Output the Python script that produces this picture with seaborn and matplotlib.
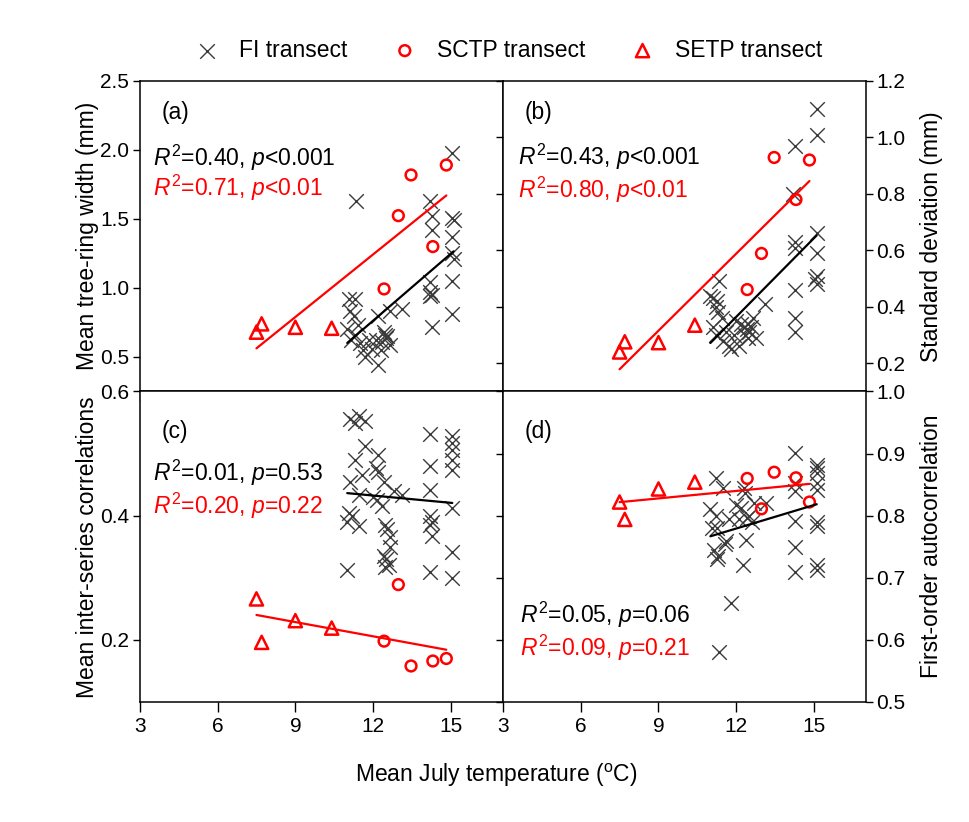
import numpy as np
import matplotlib
matplotlib.use('Agg')
import matplotlib.pyplot as plt
import seaborn as sns

# temperatures of the red transects (shared by all panels)
setp_temp = [7.5, 7.7, 9.0, 10.4]
sctp_temp = [12.42, 12.97, 13.46, 14.3, 14.82]

# (a) mean tree-ring width
fi_temp_a = [11.05, 11.3, 11.1, 11.25, 11.0, 11.4, 11.3, 11.15, 11.5, 11.35,
             11.6, 11.7, 11.95, 11.85, 12.2, 12.2, 12.4, 12.45, 12.35, 12.65,
             12.65, 12.5, 12.3, 13.1, 14.2, 14.25, 14.25, 14.2, 14.2, 14.25,
             14.2, 14.25, 15.05, 15.05, 15.1, 15.05, 15.05, 15.1, 15.05, 15.05,
             12.1, 12.55]
fi_a = [0.92, 0.92, 0.83, 0.80, 0.70, 0.73, 0.66, 0.62, 0.60, 1.63,
        0.55, 0.50, 0.56, 0.62, 0.80, 0.44, 0.68, 0.66, 0.61, 0.59,
        0.83, 0.64, 0.55, 0.85, 1.63, 1.52, 1.42, 1.04, 0.97, 0.95,
        0.94, 0.72, 1.98, 1.51, 1.49, 1.37, 1.25, 1.21, 1.05, 0.81,
        0.62, 0.65]
setp_a = [0.68, 0.74, 0.715, 0.708]
sctp_a = [0.993, 1.524, 1.819, 1.30, 1.891]

# (b) standard deviation
fi_temp_b = [11.0, 11.1, 11.2, 11.3, 11.35, 11.1, 11.2, 11.45, 11.7, 11.8,
             11.6, 12.1, 12.2, 12.3, 12.4, 12.45, 12.5, 12.55, 12.65, 12.75,
             12.35, 13.1, 11.9, 14.25, 14.2, 14.25, 14.25, 14.25, 14.25, 14.25,
             15.1, 15.1, 15.1, 15.1, 15.1, 15.05, 15.1,
             11.25, 11.5, 12.0, 12.45]
fi_b = [0.44, 0.43, 0.40, 0.38, 0.49, 0.33, 0.30, 0.36, 0.26, 0.25,
        0.31, 0.26, 0.34, 0.33, 0.32, 0.34, 0.31, 0.33, 0.36, 0.29,
        0.30, 0.41, 0.30, 0.97, 0.80, 0.63, 0.61, 0.46, 0.36, 0.31,
        1.10, 1.01, 0.66, 0.59, 0.51, 0.50, 0.48,
        0.42, 0.28, 0.35, 0.29]
setp_b = [0.240, 0.276, 0.273, 0.335]
sctp_b = [0.461, 0.589, 0.929, 0.780, 0.920]

# (c) mean inter-series correlations
fi_temp_c = [11.1, 11.3, 11.45, 11.7, 11.7, 11.3, 12.2, 12.1, 12.2, 11.55,
             11.1, 12.4, 11.45, 12.0, 12.15, 13.1, 12.8, 12.35, 11.05, 11.2,
             11.0, 11.45, 12.45, 12.55, 12.65, 12.65, 12.4, 12.5, 12.6, 12.45,
             11.0, 14.2, 14.2, 14.2, 14.2, 14.25, 14.2, 14.25, 14.2,
             15.05, 15.05, 15.05, 15.05, 15.05, 15.05, 15.05, 15.05]
fi_c = [0.555, 0.55, 0.56, 0.553, 0.512, 0.49, 0.498, 0.477, 0.47, 0.466,
        0.455, 0.455, 0.434, 0.43, 0.426, 0.434, 0.44, 0.415, 0.405, 0.40,
        0.39, 0.383, 0.385, 0.378, 0.366, 0.35, 0.335, 0.33, 0.32, 0.318,
        0.313, 0.531, 0.48, 0.442, 0.40, 0.39, 0.385, 0.367, 0.31,
        0.528, 0.517, 0.506, 0.49, 0.474, 0.412, 0.342, 0.30]
setp_c = [0.266, 0.196, 0.231, 0.219]
sctp_c = [0.198, 0.289, 0.158, 0.166, 0.170]

# (d) first-order autocorrelation
fi_temp_d = [14.27, 15.1, 15.1, 15.1, 15.1, 15.1, 14.27, 14.27, 11.22, 11.47,
             12.3, 12.35, 11.0, 11.2, 12.0, 12.2, 13.15, 12.4, 12.6, 12.5,
             12.1, 11.7, 11.05, 11.25, 11.6, 11.55, 12.37, 11.15, 11.3, 11.25,
             12.25, 14.27, 14.27, 14.27, 15.1, 15.1, 15.1, 15.1, 11.8, 11.34,
             12.7]
fi_d = [0.901, 0.882, 0.876, 0.869, 0.853, 0.842, 0.853, 0.839, 0.861, 0.845,
        0.845, 0.837, 0.81, 0.80, 0.818, 0.813, 0.82, 0.797, 0.79, 0.80,
        0.795, 0.794, 0.78, 0.78, 0.76, 0.755, 0.761, 0.745, 0.735, 0.73,
        0.721, 0.791, 0.75, 0.71, 0.79, 0.783, 0.721, 0.713, 0.659, 0.581,
        0.82]
setp_d = [0.822, 0.794, 0.843, 0.854]
sctp_d = [0.860, 0.811, 0.870, 0.861, 0.822]

# statistics printed in each panel
panel_tags = ['(a)', '(b)', '(c)', '(d)']
r2_fi = ['0.40', '0.43', '0.01', '0.05']
p_fi = ['<0.001', '<0.001', '=0.53', '=0.06']
r2_red = ['0.71', '0.80', '0.20', '0.09']
p_red = ['<0.01', '<0.01', '=0.22', '=0.21']

ylabels = ['Mean tree-ring width (mm)', 'Standard deviation (mm)',
           'Mean inter-series correlations', 'First-order autocorrelation']

sns.set_style('ticks')
plt.rcParams['font.family'] = ['Liberation Sans', 'DejaVu Sans']
plt.rcParams['mathtext.fontset'] = 'custom'
plt.rcParams['mathtext.rm'] = 'Liberation Sans'
plt.rcParams['mathtext.it'] = 'Liberation Sans:italic'
for key in ['text.color', 'axes.labelcolor', 'xtick.color', 'ytick.color',
            'xtick.labelcolor', 'ytick.labelcolor']:
    plt.rcParams[key] = 'black'

fig, axes = plt.subplots(2, 2, figsize=(9.69, 8.22), dpi=100, sharex=True)
plt.subplots_adjust(left=0.1442, right=0.8937, bottom=0.146, top=0.9015,
                    wspace=0, hspace=0)
axes = axes.ravel()

panels = [
    (fi_temp_a, fi_a, setp_a, sctp_a),
    (fi_temp_b, fi_b, setp_b, sctp_b),
    (fi_temp_c, fi_c, setp_c, sctp_c),
    (fi_temp_d, fi_d, setp_d, sctp_d),
]
ylims = [(0.25, 2.5), (0.1, 1.2), (0.1, 0.6), (0.5, 1.0)]
yticks = [np.arange(0.5, 2.51, 0.5), np.arange(0.2, 1.21, 0.2),
          [0.2, 0.4, 0.6], np.arange(0.5, 1.01, 0.1)]
# axes-fraction y of the two statistic lines
stat_y = [(0.751, 0.655), (0.757, 0.65), (0.738, 0.63), (0.281, 0.173)]
stat_x = [0.037, 0.043, 0.037, 0.047]

for i, ax in enumerate(axes):
    fi_t, fi_v, setp_v, sctp_v = panels[i]

    sns.scatterplot(x=fi_t, y=fi_v, marker='x', color='#3a3a3a', s=110,
                    linewidth=1.0, ax=ax, label='FI transect', zorder=3)
    sns.scatterplot(x=sctp_temp, y=sctp_v, marker='o', s=60, facecolor='none',
                    edgecolor='red', linewidth=1.8, ax=ax, label='SCTP transect', zorder=4)
    sns.scatterplot(x=setp_temp, y=setp_v, marker='^', s=90, facecolor='none',
                    edgecolor='red', linewidth=1.8, ax=ax, label='SETP transect', zorder=4)

    # regression lines
    sns.regplot(x=fi_t, y=fi_v, scatter=False, ci=None, truncate=True,
                color='black', line_kws={'lw': 1.6, 'zorder': 5}, ax=ax)
    sns.regplot(x=np.concatenate([setp_temp, sctp_temp]),
                y=np.concatenate([setp_v, sctp_v]), scatter=False, ci=None,
                truncate=True, color='red', line_kws={'lw': 1.6, 'zorder': 5}, ax=ax)

    ax.set_xlim(3, 17)
    ax.set_xticks([3, 6, 9, 12, 15])
    ax.set_ylim(*ylims[i])
    ax.set_yticks(yticks[i])
    ax.set_yticklabels(['%.1f' % v for v in yticks[i]])

    ax.text(0.06, 0.898 if i < 2 else 0.872, panel_tags[i], transform=ax.transAxes,
            fontsize=16.5, va='center', ha='left')
    ax.text(stat_x[i], stat_y[i][0], r'$R^2$=' + r2_fi[i] + ', $p$' + p_fi[i],
            transform=ax.transAxes, fontsize=16.5, va='center', color='black')
    ax.text(stat_x[i], stat_y[i][1], r'$R^2$=' + r2_red[i] + ', $p$' + p_red[i],
            transform=ax.transAxes, fontsize=16.5, va='center', color='red')

    ax.set_xlabel('')
    ax.set_ylabel(ylabels[i], fontsize=16.5)
    ax.tick_params(axis='x', direction='out', length=7, width=1, labelsize=15, color='black')
    ax.tick_params(axis='y', direction='out', length=5, width=1, pad=2.5,
                   labelsize=15, color='black')
    for sp in ax.spines.values():
        sp.set_linewidth(1.1)
        sp.set_color('black')

    if i % 2 == 1:
        ax.yaxis.tick_right()
        ax.yaxis.set_label_position('right')
        ax.tick_params(axis='y', left=True, right=True, labelleft=False, labelright=True)
        ax.yaxis.set_label_coords(1.150, 0.5)
    else:
        ax.yaxis.set_label_coords(-0.112, 0.5)

    ax.get_legend().remove()

handles, labels = axes[0].get_legend_handles_labels()
fig.legend(handles, labels, loc='center', bbox_to_anchor=(0.525, 0.939), ncol=3,
           frameon=False, fontsize=16.5, handlelength=1.0, handletextpad=0.9,
           columnspacing=2.0)

fig.text(0.512, 0.057, r'Mean July temperature ($^{\rm o}$C)', ha='center',
         va='center', fontsize=16.5)

fig.savefig('out.png', dpi=100)
